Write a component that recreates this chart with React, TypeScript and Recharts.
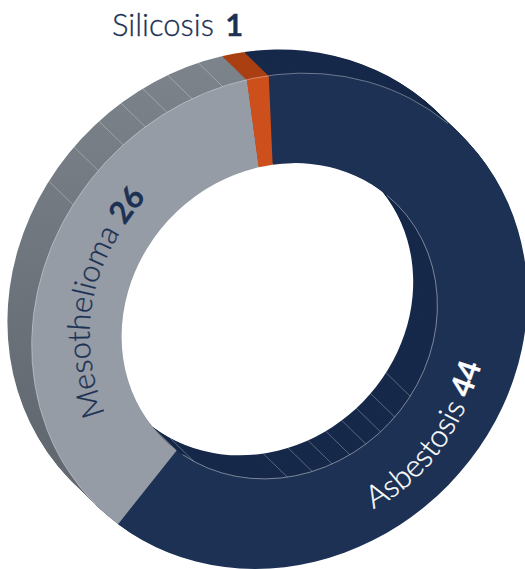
import { PieChart, Pie, Cell } from "recharts";

// values
const categories = ["Asbestosis", "Mesothelioma", "Silicosis"];
const cases = [44, 26, 1];

// where the side facets meet the front rim, degrees clockwise from the top
const outerFacets = [343.9, 336.5, 330.2, 324.4, 318.1, 310.2, 300.8];
const innerFacets = [121.3, 130.3, 137.4, 144, 150.7, 157.7, 165.2, 174.3, 209.9];

const faceColors = ["#1c3153", "#959ca6", "#cc4f1c"];
const sideColors = ["#17294a", "url(#greySide)", "#a93f12"];

const data = categories.map((name, i) => ({ name, value: cases[i] }));

const CX = 279.5;
const CY = 321;
const OUTER = 246.5;
const INNER = 157;
const DEPTH_X = 25.3;
const DEPTH_Y = 24.7;
const LAYERS = 26;
const START = 95.3;
const SQUASH = "matrix(1.0045,-0.0495,-0.0495,1.0045,0,0)";

const layers = Array.from({ length: LAYERS }, (_, i) => LAYERS - i);

function polar(r: number, deg: number, shift = 0) {
  const a = (deg * Math.PI) / 180;
  return {
    x: CX + r * Math.sin(a) - shift * DEPTH_X,
    y: CY - r * Math.cos(a) - shift * DEPTH_Y,
  };
}

function arc(r: number, from: number, to: number) {
  const a = polar(r, from);
  const b = polar(r, to);
  const large = to - from > 180 ? 1 : 0;
  return `M${a.x} ${a.y}A${r} ${r} 0 ${large} 1 ${b.x} ${b.y}`;
}

function Facet({ r, deg }: { r: number; deg: number }) {
  const a = polar(r, deg);
  const b = polar(r, deg, 1);
  return <line x1={a.x} y1={a.y} x2={b.x} y2={b.y} stroke="#ffffff" strokeOpacity={0.4} strokeWidth={0.7} />;
}

export default function App() {
  return (
    <div style={{ position: "fixed", left: 0, top: 0, width: 525, height: 569, overflow: "hidden", background: "#fff" }}>
      <div
        style={{
          position: "absolute",
          left: 0,
          top: 0,
          transform: SQUASH,
          transformOrigin: `${CX}px ${CY}px`,
        }}
      >
        <PieChart width={640} height={640} margin={{ top: 0, right: 0, bottom: 0, left: 0 }}>
          <defs>
            <linearGradient id="greySide" gradientUnits="userSpaceOnUse" x1="0" y1="60" x2="0" y2="420">
              <stop offset="0" stopColor="#7c838b" />
              <stop offset="1" stopColor="#626970" />
            </linearGradient>
          </defs>
          {layers.map((n) => (
            <Pie
              key={n}
              data={data}
              dataKey="value"
              cx={CX - (n * DEPTH_X) / LAYERS}
              cy={CY - (n * DEPTH_Y) / LAYERS}
              innerRadius={INNER}
              outerRadius={OUTER}
              startAngle={START}
              endAngle={START - 360}
              stroke="none"
              isAnimationActive={false}
            >
              {categories.map((c, i) => (
                <Cell key={c} fill={sideColors[i]} />
              ))}
            </Pie>
          ))}
          <Pie
            data={data}
            dataKey="value"
            cx={CX}
            cy={CY}
            innerRadius={INNER}
            outerRadius={OUTER}
            startAngle={START}
            endAngle={START - 360}
            stroke="none"
            isAnimationActive={false}
          >
            {categories.map((c, i) => (
              <Cell key={c} fill={faceColors[i]} />
            ))}
          </Pie>
        </PieChart>
        <svg width={640} height={640} style={{ position: "absolute", left: 0, top: 0, pointerEvents: "none" }}>
          {outerFacets.map((d) => (
            <Facet key={d} r={OUTER} deg={d} />
          ))}
          {innerFacets.map((d) => (
            <Facet key={d} r={INNER} deg={d} />
          ))}
          <path d={arc(OUTER, 225, 400)} fill="none" stroke="#ffffff" strokeOpacity={0.5} strokeWidth={0.7} />
          <path d={arc(INNER, 40, 215)} fill="none" stroke="#ffffff" strokeOpacity={0.6} strokeWidth={0.7} />
        </svg>
      </div>
      <svg width={525} height={569} style={{ position: "absolute", left: 0, top: 0 }} fontFamily="Lato" fontSize={31}>
        <defs>
          <path id="mesoPath" d="M105 414C80 345 80 275 146 198" />
          <path id="asbPath" d="M373 509Q450 470 482 364" />
        </defs>
        <text x={112} y={36} fontWeight={300} fill="#1c3153" stroke="#1c3153" strokeWidth={0.3}>
          {categories[2]} <tspan fontWeight={700} dx={3}>{cases[2]}</tspan>
        </text>
        <text fontWeight={300} fill="#1c3153" stroke="#1c3153" strokeWidth={0.3}>
          <textPath href="#mesoPath">
            {categories[1]} <tspan fontWeight={700}>{cases[1]}</tspan>
          </textPath>
        </text>
        <text fontWeight={300} fill="#ffffff" stroke="#ffffff" strokeWidth={0.3}>
          <textPath href="#asbPath">
            {categories[0]} <tspan fontWeight={700}>{cases[0]}</tspan>
          </textPath>
        </text>
      </svg>
    </div>
  );
}
